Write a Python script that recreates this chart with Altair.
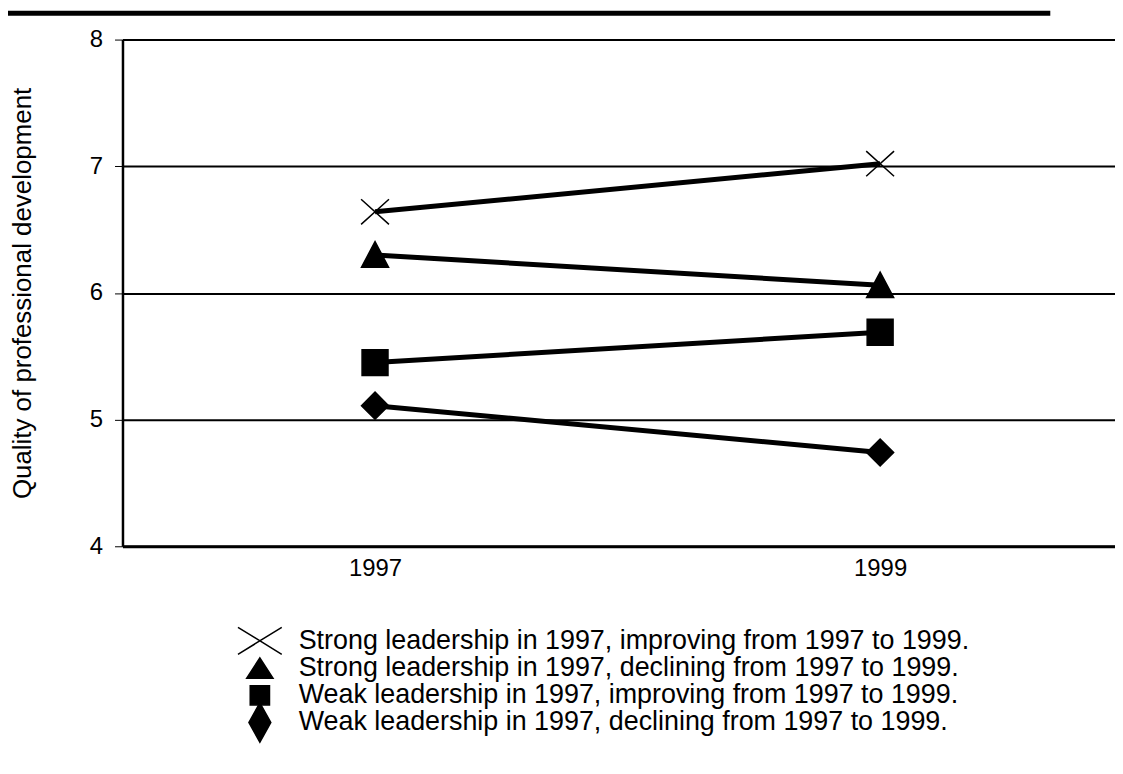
import altair as alt
import pandas as pd

# ---- data ----
years = [1997, 1999]
series = [
    "Strong leadership in 1997, improving from 1997 to 1999.",
    "Strong leadership in 1997, declining from 1997 to 1999.",
    "Weak leadership in 1997, improving from 1997 to 1999.",
    "Weak leadership in 1997, declining from 1997 to 1999.",
]
strong_improving = [6.64, 7.02]
strong_declining = [6.30, 6.06]
weak_improving = [5.45, 5.69]
weak_declining = [5.11, 4.74]
y_ticks = [4, 5, 6, 7, 8]
x_ticks = [1997, 1999]
y_title = "Quality of professional development"

# marker shapes (plot) and legend shapes
plot_shapes = [
    "M-1,-0.9L1,0.9M-1,0.9L1,-0.9",
    "M0,-0.95L0.97,0.88L-0.97,0.88Z",
    "M-0.93,-0.93L0.93,-0.93L0.93,0.93L-0.93,0.93Z",
    "M0,-0.97L0.97,0L0,0.97L-0.97,0Z",
]
legend_shapes = [
    "M-1,-0.62L1,0.62M-1,0.62L1,-0.62",
    "M0,-0.46L0.6,0.46L-0.6,0.46Z",
    "M-0.44,-0.44L0.44,-0.44L0.44,0.44L-0.44,0.44Z",
    "M0,-0.9L0.5,0L0,0.9L-0.5,0Z",
]

rows = []
for name, vals in zip(series, [strong_improving, strong_declining, weak_improving, weak_declining]):
    for yr, v in zip(years, vals):
        rows.append({"series": name, "year": yr, "value": v})
df = pd.DataFrame(rows)
legend_df = pd.DataFrame({"series": series, "row": [1, 2, 3, 4]})

FONT = "Liberation Sans"

x = alt.X(
    "year:Q",
    scale=alt.Scale(domain=[1996, 1999.93], nice=False, zero=False),
    axis=alt.Axis(values=x_ticks, format="d", ticks=False, tickSize=0, grid=False,
                  labelFontSize=24, labelPadding=10, domainWidth=3, domainColor="black",
                  labelColor="black", title=None, labelFont=FONT),
)
y = alt.Y(
    "value:Q",
    scale=alt.Scale(domain=[4, 8], nice=False, zero=False),
    axis=alt.Axis(values=y_ticks, grid=True, gridColor="black", gridWidth=2, gridOpacity=1,
                  tickSize=8, tickColor="black", tickWidth=1, labelPadding=12,
                  labelFontSize=24, labelColor="black", labelFont=FONT,
                  domainWidth=2.5, domainColor="black",
                  title=y_title, titleFontSize=26, titleFontWeight="normal",
                  titleColor="black", titleFont=FONT, titleAngle=270,
                  titleX=-92, titleY=254.5, titleAlign="center", titleBaseline="alphabetic"),
)

lines = alt.Chart(df).mark_line(color="black", strokeWidth=5).encode(
    x=x, y=y, detail="series:N"
)
points = alt.Chart(df).mark_point(
    filled=True, fill="black", stroke="black", strokeWidth=1.5, size=784, opacity=1
).encode(
    x=x, y=y,
    shape=alt.Shape("series:N", scale=alt.Scale(domain=series, range=plot_shapes), legend=None),
)
topline = alt.Chart(pd.DataFrame({"a": [0]})).mark_rule(color="black", strokeWidth=5).encode(
    x=alt.value(-119), x2=alt.value(932), y=alt.value(-26.5)
)
main = alt.layer(lines, points, topline)

ly = alt.Y("row:O", scale=alt.Scale(range=[604, 686], padding=0), axis=None)
leg_sym = alt.Chart(legend_df).mark_point(
    filled=True, fill="black", stroke="black", strokeWidth=1.5, size=1936, opacity=1
).encode(
    x=alt.value(138), y=ly,
    shape=alt.Shape("series:N", scale=alt.Scale(domain=series, range=legend_shapes), legend=None),
)
leg_txt = alt.Chart(legend_df).mark_text(
    align="left", baseline="middle", fontSize=27, color="black", font=FONT
).encode(x=alt.value(177), y=ly, text="series:N")
legend = alt.layer(leg_sym, leg_txt)

chart = alt.layer(main, legend).resolve_scale(
    y="independent", shape="independent"
).properties(
    width=997, height=509,
    padding={"left": 115, "top": 30, "right": 0, "bottom": 219},
    autosize=alt.AutoSizeParams(type="none"),
    background="white",
).configure_view(stroke=None)

chart.save("out.html", embed_options={"renderer": "svg", "actions": False})
